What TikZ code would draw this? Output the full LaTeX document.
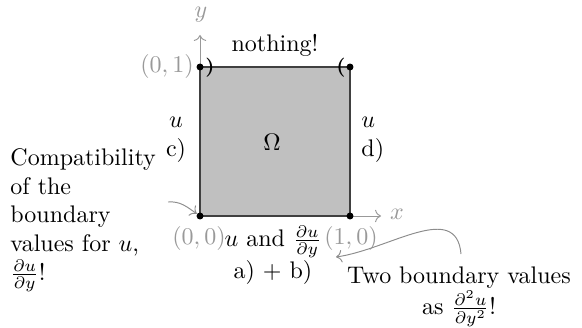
\documentclass[tikz,border=0pt]{standalone}
\usepackage{amsmath}
\usetikzlibrary{arrows.meta}
\definecolor{labgray}{HTML}{999999}
\definecolor{linegray}{HTML}{8C8C8C}
\definecolor{regfill}{HTML}{C0C0C0}
\definecolor{edgegray}{HTML}{404040}
\begin{document}
\begin{tikzpicture}[x=0.4167pt,y=-0.4167pt,
  lab/.style={text=labgray, inner sep=0pt},
  txt/.style={inner sep=0pt},
  cornerdot/.style={circle, fill=black, inner sep=0pt, minimum size=2.9pt},
  axisline/.style={draw=labgray, line width=0.4pt, ->},
  conn/.style={draw=linegray, line width=0.4pt, ->},
  paren/.style={inner sep=0pt, font=\footnotesize\bfseries}
]
\useasboundingbox (0,0) rectangle (582,327);
% corners
\coordinate (A) at (200,216);
\coordinate (B) at (350,216);
\coordinate (C) at (350,67);
\coordinate (D) at (200,67);
% region
\filldraw[fill=regfill, draw=edgegray, line width=0.8pt] (A) rectangle (C);
% axes
\coordinate (yend) at (200,35);
\coordinate (xend) at (381,216);
\draw[axisline] (D) -- (yend);
\draw[axisline] (B) -- (xend);
\node[lab] (ylab) at (201,15) {$y$};
\node[lab] (xlab) at (397,214) {$x$};
% corner labels
\node[lab] (l01) at (167,67) {$(0,1)$};
\node[lab] (l00) at (199,238) {$(0,0)$};
\node[lab] (l10) at (351,238) {$(1,0)$};
% dots
\node[cornerdot] (dA) at (A) {};
\node[cornerdot] (dB) at (B) {};
\node[cornerdot] (dC) at (C) {};
\node[cornerdot] (dD) at (D) {};
% parentheses
\node[paren] (pl) at (210,68) {)};
\node[paren] (pr) at (341,68) {(};
% texts
\node[txt] (nothing) at (275,45) {nothing!};
\node[txt] (omega) at (272,142) {$\Omega$};
\node[txt, align=center] (left) at (176,140) {$u$\\c)};
\node[txt, align=left, anchor=west] (right) at (361,140) {$u$\\d)};
\node[txt, align=center, anchor=north] (bottom) at (273,225) {$u$ and $\frac{\partial u}{\partial y}$\\a) + b)};
\node[txt, align=left, anchor=north west] (compat) at (10,148) {Compatibility\\of the\\boundary\\values for $u$,\\$\frac{\partial u}{\partial y}$!};
\node[txt, align=center, anchor=north] (two) at (459,266) {Two boundary values\\as $\frac{\partial^2 u}{\partial y^2}$!};
% connectors
\coordinate (la) at (168,202);
\draw[conn] (la) to[out=5, in=145] (dA);
\coordinate (ra) at (461,254);
\coordinate (rb) at (336,257);
\draw[conn] (ra) to[out=95, in=8, looseness=1.1] (rb);
\end{tikzpicture}
\end{document}
